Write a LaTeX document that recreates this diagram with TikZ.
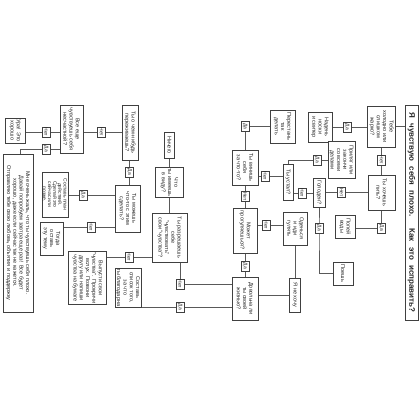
\documentclass[tikz,border=0pt]{standalone}
\usepackage{fontspec}
\setmainfont{Liberation Sans}
\usetikzlibrary{backgrounds}
\begin{document}
\begin{tikzpicture}[x=1pt,y=1pt,
  bx/.style={draw=black!75, fill=white, align=center, inner sep=0.6pt, line width=0.6pt, font=\fontsize{5.5}{6.3}\selectfont, text=black!85},
  yn/.style={draw=black!75, fill=white, inner sep=0.3pt, minimum width=10pt, minimum height=8pt, line width=0.6pt, font=\fontsize{5}{5}\selectfont, text=black!85},
  sz/.style 2 args={minimum width=#1pt, minimum height=#2pt},
  ln/.style={draw=black!65, line width=0.6pt}]
\begin{scope}[rotate=-90, transform shape]
\useasboundingbox (0,0) rectangle (420,420);
\node[bx, sz={215}{13}, font=\bfseries\fontsize{8}{9}\selectfont] (title) at (212.5,411.5) {\makebox[200pt][s]{Я чувствую себя плохо. Как это исправить?}};
\node[bx, sz={41}{28}] (tcold) at (126.5,381.5) {Тебе\\холодно или\\слишком\\жарко?};
\node[yn] (y1) at (127,347) {Да};
\node[bx, sz={30}{24}] (socks) at (127,320) {Надень\\носки\\и свитер};
\node[yn] (n1) at (160,381.5) {Нет};
\node[bx, sz={35}{27}] (thirst) at (192.5,381.5) {Ты хочешь\\пить?};
\node[yn] (y2) at (228,381.5) {Да};
\node[bx, sz={23}{20}] (drink) at (226.5,345) {Попей\\воды};
\node[yn] (n2) at (192.5,341.5) {Нет};
\node[bx, sz={29}{12}] (hungry) at (192.5,319) {Голоден?};
\node[yn] (y3) at (228,319) {Да};
\node[bx, sz={23}{20}] (eat) at (273.5,343) {Поешь};
\node[yn] (n3) at (193,302) {Нет};
\node[bx, sz={36}{10}] (tired) at (182,288) {Ты устал?};
\node[yn] (y4) at (160,317) {Да};
\node[bx, sz={37}{27}] (rest) at (160,341.5) {Приляг или\\закончи\\со всеми\\делами};
\node[yn] (n4) at (176,265) {Нет};
\node[bx, sz={35}{26}] (blame) at (167.5,245) {Ты винишь\\себя\\за что-то?};
\node[yn] (y5) at (126.5,245) {Да};
\node[bx, sz={33}{25}] (stop) at (126.5,282.5) {Перестань\\так\\делать};
\node[yn] (n5) at (196.5,245) {Нет};
\node[bx, sz={45}{24}] (walk) at (230.5,245) {Может\\прогуляешься?};
\node[yn] (n6) at (225,266) {Нет};
\node[bx, sz={33}{24}] (dress) at (228.5,295) {Оденься\\и иди\\гулять};
\node[bx, sz={34}{11}] (nowant) at (295,295) {Я не хочу};
\node[yn] (y6) at (266,245) {Да};
\node[bx, sz={43}{26}] (happy) at (298.5,245) {Довольна ли\\ты своей\\жизнью?};
\node[yn] (n7) at (284,180) {Нет};
\node[yn] (y7) at (307,180) {Да};
\node[bx, sz={35}{26}] (grat) at (287.5,128) {Составь\\список того,\\за что\\ты благодарна};
\node[bx, sz={49}{35}] (allow) at (237.5,169.5) {Ты разрешаешь\\себе\\"чувствовать"\\свои "чувства"?};
\node[bx, sz={29}{28}] (mean) at (182.5,169.5) {Что\\ты имеешь\\в виду?};
\node[bx, sz={26}{10}] (nothing) at (145,169.5) {Ничего};
\node[yn] (n8) at (257,129) {Нет};
\node[bx, sz={52}{38}] (release) at (278,87.5) {Выпусти свои\\"чувства". Прокричи\\вслух. Позвони\\другу или напиши\\чувства на бумаге};
\node[bx, sz={55}{16}] (worry) at (132.5,130) {Ты о чем-нибудь\\переживаешь?};
\node[yn] (n9) at (132,101.5) {Нет};
\node[bx, sz={48}{23}] (still) at (129,71.5) {Все еще\\чувствуешь себя\\несчастной?};
\node[yn] (n10) at (132,46) {Нет};
\node[bx, sz={25}{20}] (hooray) at (130.5,15) {Ура! Это\\хорошо};
\node[yn] (y8) at (149,46) {Да};
\coordinate (c8) at (149,20);
\node[bx, sz={158}{30}] (sorry) at (233,18) {Мне очень жаль, что ты чувствуешь себя плохо.\\Давай попробуем завтра еще раз! Все будет\\хорошо, даже если сейчас так не кажется.\\Отправляю тебе свою любовь, объятия и поддержку};
\node[yn] (y9) at (172,129.5) {Да};
\node[bx, sz={47}{25}] (can) at (208.5,127.5) {Ты можешь\\что-то с этим\\сделать?};
\node[yn] (y10) at (195,83) {Да};
\node[bx, sz={45}{26}, font=\fontsize{5}{5.2}\selectfont] (plan) at (194.5,55) {Составь план\\действий.\\Сделай это\\сейчас или\\позже.};
\node[yn] (n11) at (227,91) {Нет};
\node[bx, sz={33}{23}] (then) at (238.5,51.5) {Тогда\\оставь\\эту тему};
\begin{scope}[on background layer]
\fill[white] (0,0) rectangle (420,420);
\draw[ln] (tcold.north) -- (tcold.north |- title.south);
\draw[ln] (y1 |- tcold.south) -- (y1 |- socks.north);
\draw[ln] (tcold.east) -- (thirst.west);
\draw[ln] (thirst.east) -- (y2.center) -- (y2 |- drink.north);
\draw[ln] (thirst.south) -- (hungry.north);
\draw[ln] (hungry.east) -- (y3.center) -| (eat.south);
\draw[ln] (n3 |- hungry.south) -- (n3 |- tired.north);
\draw[ln] (tired.west) -- (y4 |- tired.west) -- (y4 |- rest.south);
\draw[ln] (n4 |- tired.south) -- (n4 |- blame.north);
\draw[ln] (blame.west) -- (y5.center) -- (y5 |- stop.south);
\draw[ln] (blame.east) -- (walk.west);
\draw[ln] (n6 |- walk.north) -- (n6 |- dress.south);
\draw[ln] (walk.east) -- (happy.west);
\draw[ln] (dress.east) -- (nowant.west);
\draw[ln] (nowant.south) -- (nowant.south |- happy.north);
\draw[ln] (n7 |- happy.south) -- (n7.center) -- (n7 -| allow.east);
\draw[ln] (y7 |- happy.south) -- (y7 |- grat.north);
\draw[ln] (nothing.east) -- (mean.west);
\draw[ln] (mean.east) -- (allow.west);
\draw[ln] (n8 |- allow.south) -- (n8 |- release.north);
\draw[ln] (n9 |- worry.south) -- (n9 |- still.north);
\draw[ln] (n10 |- still.south) -- (n10 |- hooray.north);
\draw[ln] (y8 |- still.south) -- (c8) -- (c8 -| sorry.west);
\draw[ln] (worry.east |- y9) -- (can.west |- y9);
\draw[ln] (y10 |- can.south) -- (y10 |- plan.north);
\draw[ln] (n11 |- can.south) -- (n11 |- then.north);
\end{scope}
\end{scope}
\end{tikzpicture}
\end{document}
